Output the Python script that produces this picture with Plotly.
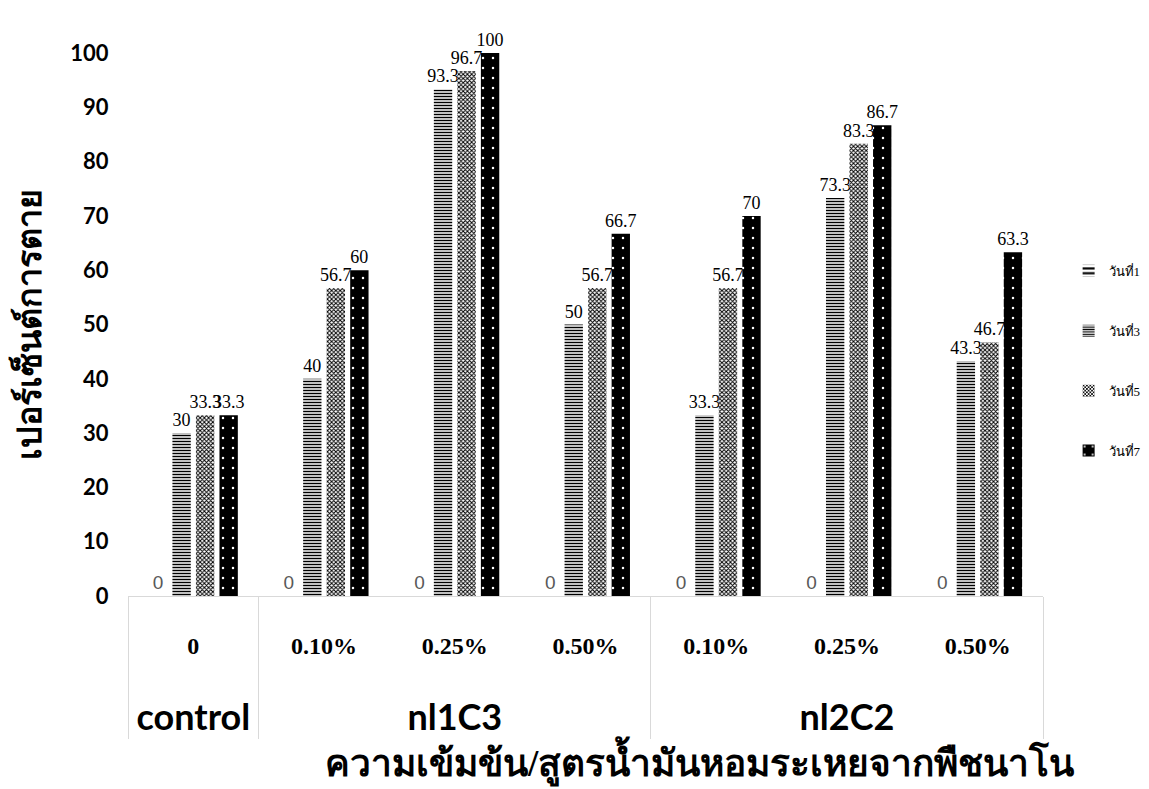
import plotly.graph_objects as go

groups = ["control", "nl1C3", "nl1C3", "nl1C3", "nl2C2", "nl2C2", "nl2C2"]
concs = ["0", "0.10%", "0.25%", "0.50%", "0.10%", "0.25%", "0.50%"]

series_names = ["วันที่1", "วันที่3", "วันที่5", "วันที่7"]
day1 = [0, 0, 0, 0, 0, 0, 0]
day3 = [30, 40, 93.3, 50, 33.3, 73.3, 43.3]
day5 = [33.3, 56.7, 96.7, 56.7, 56.7, 83.3, 46.7]
day7 = [33.3, 60, 100, 66.7, 70, 86.7, 63.3]

y_ticks = [0, 10, 20, 30, 40, 50, 60, 70, 80, 90, 100]

x_title = "ความเข้มข้น/สูตรน้ำมันหอมระเหยจากพืชนาโน"
y_title = "เปอร์เซ็นต์การตาย"


def grp_label(g):
    return '&nbsp;<br><span style="font-family:Lato;font-size:36px">' + g + '</span>'


def conc_label(c):
    return '<span style="font-size:24px">' + c + '</span>'


x = [[grp_label(g) for g in groups], [conc_label(c) for c in concs]]


def fmt(v):
    return "%g" % v


patterns = [
    dict(shape="-", fgcolor="black", bgcolor="white", size=6, solidity=0.45, fgopacity=1),
    dict(shape="-", fgcolor="black", bgcolor="white", size=3, solidity=0.5, fgopacity=1),
    dict(shape="x", fgcolor="black", bgcolor="white", size=3, solidity=0.55, fgopacity=1),
    dict(shape=".", fgcolor="white", bgcolor="black", size=10, solidity=0.05, fgopacity=1),
]
text_fonts = [
    dict(family="Liberation Sans", size=19, color="#595959"),
    dict(family="Liberation Serif", size=18, color="black"),
    dict(family="Liberation Serif", size=18, color="black"),
    dict(family="Liberation Serif", size=18, color="black"),
]

fig = go.Figure()
for i, (name, vals) in enumerate(zip(series_names, [day1, day3, day5, day7])):
    fig.add_trace(go.Bar(
        x=x, y=vals, name=name,
        marker=dict(color="white" if i < 3 else "black", pattern=patterns[i],
                    line=dict(width=0)),
        text=[fmt(v) for v in vals], textposition="outside",
        textfont=text_fonts[i], constraintext="none", cliponaxis=False,
        legendgroup=name,
    ))

# page body has an 8px margin, so the figure is 8px smaller than the window
fig.update_layout(
    width=1141, height=781,
    margin=dict(l=120, r=106, t=45, b=193, autoexpand=False),
    plot_bgcolor="white", paper_bgcolor="white",
    barmode="group", bargap=0.28, bargroupgap=0.22,
    showlegend=True,
    legend=dict(x=1.028, y=0.433, xanchor="left", yanchor="middle",
                font=dict(family="Liberation Serif", size=13, color="black"),
                tracegroupgap=40, itemwidth=30),
    font=dict(family="Liberation Serif", color="black"),
    annotations=[dict(
        text="<b>" + x_title + "</b>", xref="paper", yref="paper",
        x=0.625, y=-0.305, xanchor="center", yanchor="middle", showarrow=False,
        font=dict(family="Liberation Serif", size=37, color="black"),
    )],
)
fig.update_yaxes(
    range=[0, 100], tickvals=y_ticks, showgrid=False, zeroline=False,
    showline=False, automargin=False,
    ticks="outside", ticklen=14, tickcolor="rgba(0,0,0,0)",
    tickfont=dict(family="Lato", size=22, color="black", weight="bold"),
    title=dict(text="<b>" + y_title + "</b>",
               font=dict(family="Liberation Serif", size=34, color="black"),
               standoff=22),
)
fig.update_xaxes(
    type="multicategory", showline=True, linecolor="#d9d9d9", linewidth=1,
    showdividers=True, dividercolor="#d9d9d9", dividerwidth=1,
    automargin=False, ticklabelstandoff=7,
    tickfont=dict(family="Liberation Serif", size=42, color="black", weight="bold"),
)

fig.write_html("out.html")
